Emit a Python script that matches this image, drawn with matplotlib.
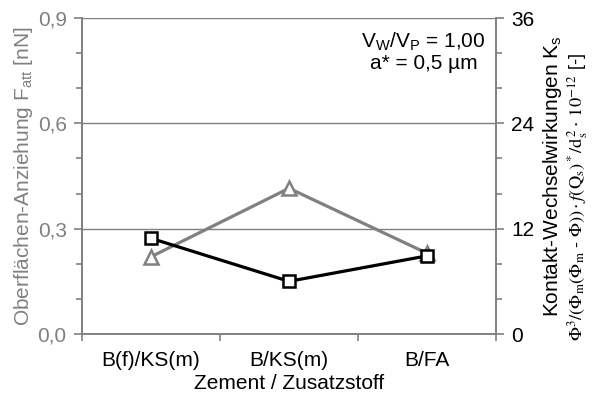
import matplotlib
matplotlib.use("Agg")
import matplotlib.pyplot as plt
from matplotlib.ticker import MultipleLocator, FixedLocator

plt.rcParams['font.family'] = ['Liberation Sans', 'DejaVu Sans']
plt.rcParams['mathtext.fontset'] = 'custom'
plt.rcParams['mathtext.rm'] = 'Liberation Sans'
plt.rcParams['mathtext.it'] = 'Liberation Sans:italic'

categories = ["B(f)/KS(m)", "B/KS(m)", "B/FA"]
f_att = [0.22, 0.415, 0.23]        # left axis, gray triangles [nN]
k_s = [10.9, 6.0, 8.9]             # right axis, black squares

GRAY = '#808080'
FS = 15

fig = plt.figure(figsize=(5.92, 4.01), dpi=100)
ax = fig.add_axes([82/592, 1-334/401, (496-82)/592, (334-18)/401])
ax2 = ax.twinx()

x = list(range(len(categories)))
ax.plot(x, f_att, color=GRAY, lw=2.3, marker='^', ms=10, mfc='white',
        mec=GRAY, mew=1.8, zorder=3)
ax2.plot(x, k_s, color='black', lw=2.3, marker='s', ms=9, mfc='white',
         mec='black', mew=1.8, zorder=3)

ax.set_xlim(-0.5, 2.5)
ax.set_ylim(0, 0.9)
ax2.set_ylim(0, 36)

# grid
for yv in [0.3, 0.6, 0.9]:
    ax.axhline(yv, color=GRAY, lw=1.0, zorder=1)

# spines
for a in (ax, ax2):
    a.spines['top'].set_visible(False)
    for s in ['left', 'right', 'bottom']:
        a.spines[s].set_color(GRAY)
        a.spines[s].set_linewidth(1.2)

# x ticks
ax.xaxis.set_major_locator(FixedLocator([-0.5, 0.5, 1.5, 2.5]))
ax.set_xticklabels([])
ax.xaxis.set_minor_locator(FixedLocator(x))
ax.set_xticklabels(categories, minor=True)
ax.tick_params(axis='x', which='major', length=5, width=1.2, color=GRAY, direction='out')
ax.tick_params(axis='x', which='minor', length=0, pad=12, labelsize=FS, labelcolor='black')
ax.set_xlabel("Zement / Zusatzstoff", fontsize=FS, labelpad=3)

# left y
ax.set_yticks([0, 0.3, 0.6, 0.9])
ax.set_yticklabels(['0,0', '0,3', '0,6', '0,9'])
ax.yaxis.set_minor_locator(MultipleLocator(0.1))
ax.tick_params(axis='y', which='major', length=6, width=1.2, color=GRAY,
               labelsize=FS, labelcolor=GRAY, pad=5)
ax.tick_params(axis='y', which='minor', length=4, width=1.2, color=GRAY)
ax.set_ylabel(r"Oberflächen-Anziehung F$_{\mathrm{att}}$ [nN]", color=GRAY,
              fontsize=FS, labelpad=2)

# right y
ax2.set_yticks([0, 12, 24, 36])
ax2.yaxis.set_minor_locator(MultipleLocator(4))
ax2.tick_params(axis='y', which='major', length=6, width=1.2, color=GRAY,
                labelsize=FS, labelcolor='black', pad=5)
ax2.tick_params(axis='y', which='minor', length=4, width=1.2, color=GRAY)

fig.text(553/592, 1-176/401, r"Kontakt-Wechselwirkungen K$_{\mathrm{s}}$",
         rotation=90, ha='center', va='center', fontsize=FS)
fig.text(578/592, 1-197/401,
         r"$\Phi^3/(\Phi_\mathrm{m}(\Phi_\mathrm{m}\ \text{-}\ \Phi))\cdot f(\mathrm{Q}_\mathrm{s})^*/\mathrm{d}^{\,2}_\mathrm{s}\cdot\,10^{-12}$ [-]",
         rotation=90, ha='center', va='center', fontsize=13.2,
         math_fontfamily='stix')

ax2.text(0.825, 0.96, r"V$_{\mathrm{W}}$/V$_{\mathrm{P}}$ = 1,00" + "\n" + "a* = 0,5 µm",
         transform=ax.transAxes, ha='center', va='top', fontsize=FS,
         linespacing=1.05)

fig.savefig("out.png", dpi=100)
